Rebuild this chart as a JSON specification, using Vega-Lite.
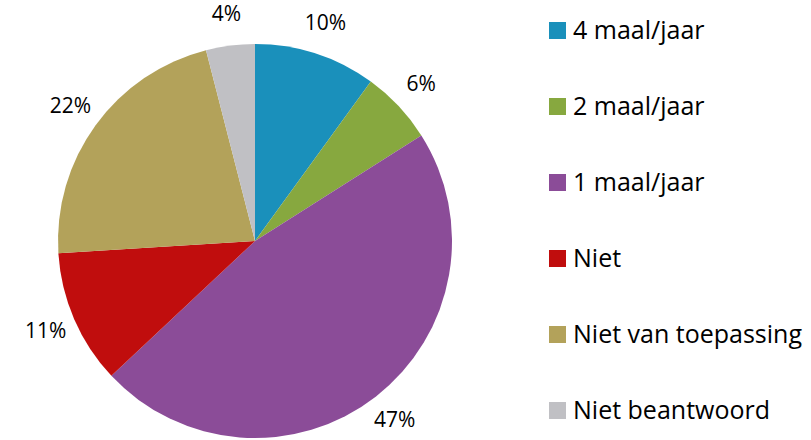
{
  "$schema": "https://vega.github.io/schema/vega-lite/v6.json",
  "width": 510,
  "height": 398,
  "padding": {"top": 42, "left": 0, "right": 301, "bottom": 0},
  "autosize": {"type": "none"},
  "background": "white",
  "config": {"view": {"stroke": null}, "font": "Open Sans"},
  "data": {
    "values": [
      {"cat": "4 maal/jaar", "value": 10, "label": "10%", "ord": 1},
      {"cat": "2 maal/jaar", "value": 6, "label": "6%", "ord": 2},
      {"cat": "1 maal/jaar", "value": 47, "label": "47%", "ord": 3},
      {"cat": "Niet", "value": 11, "label": "11%", "ord": 4},
      {"cat": "Niet van toepassing", "value": 22, "label": "22%", "ord": 5},
      {"cat": "Niet beantwoord", "value": 4, "label": "4%", "ord": 6}
    ]
  },
  "encoding": {
    "theta": {"field": "value", "type": "quantitative", "stack": true},
    "order": {"field": "ord", "type": "quantitative"}
  },
  "layer": [
    {
      "mark": {"type": "arc", "outerRadius": 197},
      "encoding": {
        "color": {
          "field": "cat",
          "type": "nominal",
          "sort": ["4 maal/jaar", "2 maal/jaar", "1 maal/jaar", "Niet", "Niet van toepassing", "Niet beantwoord"],
          "scale": {
            "domain": ["4 maal/jaar", "2 maal/jaar", "1 maal/jaar", "Niet", "Niet van toepassing", "Niet beantwoord"],
            "range": ["#1a90bb", "#87a83f", "#8b4c98", "#c00d0d", "#b3a25a", "#c0c0c4"]
          },
          "legend": {
            "title": null,
            "orient": "none",
            "legendX": 545,
            "legendY": -24,
            "symbolType": "square",
            "symbolSize": 289,
            "symbolStrokeWidth": 0,
            "labelFontSize": 25,
            "labelFont": "Open Sans",
            "labelColor": "#000000",
            "labelOffset": 3,
            "rowPadding": 50,
            "labelLimit": 400
          }
        }
      }
    },
    {
      "mark": {"type": "text", "radius": 228, "fontSize": 21, "font": "Open Sans", "color": "#000000"},
      "encoding": {"text": {"field": "label"}}
    }
  ]
}
